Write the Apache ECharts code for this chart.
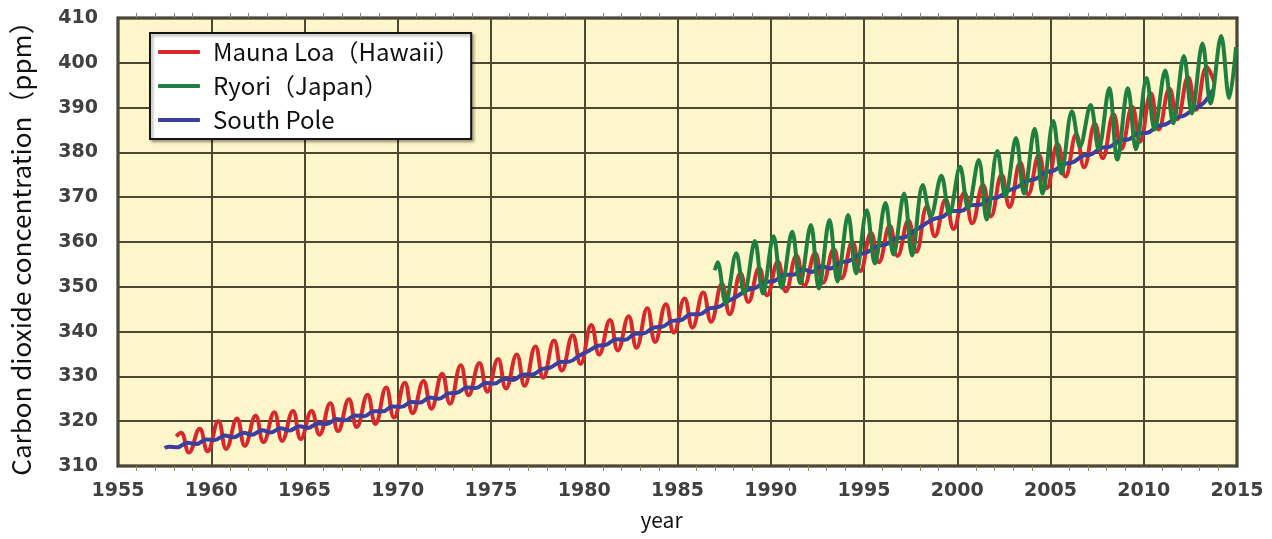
<!DOCTYPE html>
<html>
<head>
<meta charset="utf-8">
<script src="https://cdn.jsdelivr.net/npm/echarts@6/dist/echarts.min.js"></script>
<style>
html,body{margin:0;padding:0;background:#fff;}
#chart{width:1272px;height:539px;}
</style>
</head>
<body>
<div id="chart"></div>
<script>
// ---- Data (ppm) ----
const seriesNames = ['Mauna Loa（Hawaii）', 'Ryori（Japan）', 'South Pole'];
const yearTicks = [1955, 1960, 1965, 1970, 1975, 1980, 1985, 1990, 1995, 2000, 2005, 2010, 2015];

// Mauna Loa: yearly seasonal maxima / minima, 1958-2013
const maunaLoaStart = 1958;
const maunaLoaPeaks = [317.4, 318.3, 320.0, 320.6, 321.2, 322.0, 322.3, 322.3, 324.0, 324.9,
  325.9, 327.5, 328.6, 329.0, 330.6, 332.5, 333.0, 333.9, 334.9, 336.7,
  338.0, 339.2, 341.5, 342.6, 343.4, 345.2, 346.1, 347.4, 348.7, 350.6,
  353.0, 354.2, 355.6, 357.0, 357.5, 358.4, 360.0, 362.0, 363.6, 364.8,
  368.0, 369.5, 371.0, 372.7, 375.0, 377.7, 379.4, 381.9, 384.0, 386.4,
  388.5, 390.2, 393.2, 394.2, 396.8, 399.0];
const maunaLoaTroughs = [313.0, 313.3, 313.8, 314.5, 315.3, 315.6, 316.0, 317.0, 317.8, 318.7,
  319.4, 320.8, 321.8, 322.8, 323.9, 325.8, 326.6, 327.3, 327.9, 329.7,
  331.3, 332.8, 334.9, 335.8, 336.4, 337.7, 339.8, 340.9, 342.2, 343.9,
  346.6, 348.1, 349.0, 350.3, 350.9, 351.9, 353.5, 355.5, 356.9, 357.8,
  361.3, 362.9, 364.2, 365.7, 367.8, 370.6, 372.0, 374.6, 376.7, 378.7,
  380.8, 382.4, 385.1, 387.4, 389.5, 395.5];
const maunaLoaFirst = [1958.12, 316.6];

// Ryori: yearly seasonal maxima / minima, 1987-2014
const ryoriStart = 1987;
const ryoriPeaks = [355.5, 357.5, 360.2, 361.3, 362.3, 363.8, 364.9, 366.0, 367.1, 368.7,
  370.8, 372.7, 374.8, 376.8, 378.3, 380.3, 383.2, 385.3, 387.0, 389.2,
  390.6, 394.3, 394.3, 396.6, 398.3, 401.5, 404.3, 406.0];
const ryoriTroughs = [346.3, 348.5, 348.5, 349.8, 350.8, 349.6, 351.2, 353.0, 355.2, 357.2,
  357.0, 365.7, 366.2, 367.5, 365.0, 370.2, 370.8, 370.8, 375.3, 381.3,
  380.7, 378.4, 380.7, 385.1, 386.5, 388.7, 390.9, 392.1];
const ryoriFirst = [1987.0, 353.7];
const ryoriLast = [2014.95, 403.5];

// South Pole: yearly seasonal minima / maxima, 1957-2013
const southPoleStart = 1957;
const southPoleMins = [null, 314.2, 314.9, 315.8, 316.4, 317.0, 317.5, 317.9, 318.5, 319.4,
  320.2, 321.1, 322.2, 323.2, 324.2, 325.0, 326.4, 327.4, 328.4, 329.2,
  330.4, 332.0, 333.3, 335.6, 337.1, 338.2, 339.6, 341.1, 342.6, 343.9,
  345.5, 347.9, 349.8, 351.3, 352.7, 353.3, 354.1, 355.8, 357.8, 359.5,
  361.1, 363.8, 365.6, 366.9, 368.3, 370.0, 372.2, 374.1, 376.0, 377.8,
  379.6, 381.3, 382.9, 384.4, 386.3, 388.3, 391.0];
const southPoleMaxs = [314.3, 315.2, 315.9, 316.8, 317.4, 318.0, 318.4, 318.9, 319.5, 320.5,
  321.3, 322.2, 323.3, 324.3, 325.3, 326.2, 327.5, 328.5, 329.5, 330.4,
  331.6, 333.2, 334.6, 336.8, 338.3, 339.5, 340.9, 342.4, 343.9, 345.2,
  346.8, 349.2, 351.1, 352.7, 354.0, 354.6, 355.4, 357.1, 359.1, 360.8,
  362.5, 365.1, 366.9, 368.2, 369.6, 371.4, 373.6, 375.5, 377.4, 379.2,
  381.0, 382.7, 384.3, 385.8, 387.7, 389.8, 394.0];
const southPoleFirst = [1957.5, 314.0];

// time of year (fraction) at which each seasonal extreme occurs
const PHASE = { mlPeak: 0.38, mlTrough: 0.8, ryPeak: 0.15, ryTrough: 0.58, spMin: 0.2, spMax: 0.72 };

function zigzag(start, a, b, pa, pb) {
  const out = [];
  for (let i = 0; i < a.length; i++) {
    if (a[i] != null) out.push([start + i + pa, a[i]]);
    if (b[i] != null) out.push([start + i + pb, b[i]]);
  }
  return out;
}
const maunaLoaData = [maunaLoaFirst].concat(zigzag(maunaLoaStart, maunaLoaPeaks, maunaLoaTroughs, PHASE.mlPeak, PHASE.mlTrough));
const ryoriData = [ryoriFirst].concat(zigzag(ryoriStart, ryoriPeaks, ryoriTroughs, PHASE.ryPeak, PHASE.ryTrough), [ryoriLast]);
const southPoleData = [southPoleFirst].concat(zigzag(southPoleStart, southPoleMins, southPoleMaxs, PHASE.spMin, PHASE.spMax));

const colors = ['#d8282c', '#1f7f3f', '#3b3f9e'];

const chart = echarts.init(document.getElementById('chart'), null, { renderer: 'canvas' });
const labelStyle = { color: '#404040', fontSize: 19, fontWeight: 'bold', fontFamily: 'DejaVu Sans, sans-serif' };

chart.setOption({
  animation: false,
  backgroundColor: '#ffffff',
  grid: {
    left: 118, right: 35, top: 18, bottom: 73,
    show: true, backgroundColor: '#fcf6ca', borderColor: '#151515', borderWidth: 3
  },
  legend: {
    data: seriesNames,
    orient: 'vertical',
    left: 150, top: 33,
    itemWidth: 42, itemHeight: 4, itemGap: 10,
    icon: 'roundRect',
    backgroundColor: '#ffffff',
    borderColor: '#151515', borderWidth: 2,
    padding: [7, 12, 7, 8],
    shadowColor: 'rgba(0,0,0,0.35)', shadowBlur: 3, shadowOffsetX: 2, shadowOffsetY: 2,
    textStyle: { fontSize: 24, color: '#111', fontFamily: 'Noto Sans CJK JP, sans-serif', padding: [0, 0, 0, 8] }
  },
  xAxis: [{
    type: 'value', min: yearTicks[0], max: yearTicks[yearTicks.length - 1], interval: 5,
    name: 'year', nameLocation: 'middle', nameGap: 44,
    nameTextStyle: { fontSize: 21, color: '#111', fontFamily: 'Noto Sans CJK JP, sans-serif', padding: [0, 32, 0, 0] },
    axisLine: { show: false },
    axisTick: { show: false },
    minorTick: { show: true, splitNumber: 5, length: 5, lineStyle: { color: '#8a8468', width: 1 } },
    axisLabel: Object.assign({ margin: 16, formatter: v => String(v) }, labelStyle),
    splitLine: { show: true, lineStyle: { color: '#4d4834', width: 2 } }
  }, {
    type: 'value', position: 'top', min: yearTicks[0], max: yearTicks[yearTicks.length - 1], interval: 5,
    axisLine: { show: false }, axisTick: { show: false }, axisLabel: { show: false },
    minorTick: { show: true, splitNumber: 5, length: 5, lineStyle: { color: '#8a8468', width: 1 } },
    splitLine: { show: false }
  }],
  yAxis: {
    type: 'value', min: 310, max: 410, interval: 10,
    name: 'Carbon dioxide concentration（ppm）', nameLocation: 'middle', nameGap: 84, nameRotate: 90,
    nameTextStyle: { fontSize: 26, color: '#111', fontFamily: 'Noto Sans CJK JP, sans-serif' },
    axisLine: { show: false }, axisTick: { show: false },
    axisLabel: Object.assign({ margin: 20 }, labelStyle),
    splitLine: { show: true, lineStyle: { color: '#4d4834', width: 2 } }
  },
  series: [
    { name: seriesNames[0], type: 'line', data: maunaLoaData, showSymbol: false, smooth: 0.45,
      lineStyle: { color: colors[0], width: 4 }, itemStyle: { color: colors[0] }, z: 2 },
    { name: seriesNames[1], type: 'line', data: ryoriData, showSymbol: false, smooth: 0.35,
      lineStyle: { color: colors[1], width: 4 }, itemStyle: { color: colors[1] }, z: 4 },
    { name: seriesNames[2], type: 'line', data: southPoleData, showSymbol: false, smooth: 0.4,
      lineStyle: { color: colors[2], width: 4 }, itemStyle: { color: colors[2] }, z: 3 }
  ]
});
</script>
</body>
</html>
